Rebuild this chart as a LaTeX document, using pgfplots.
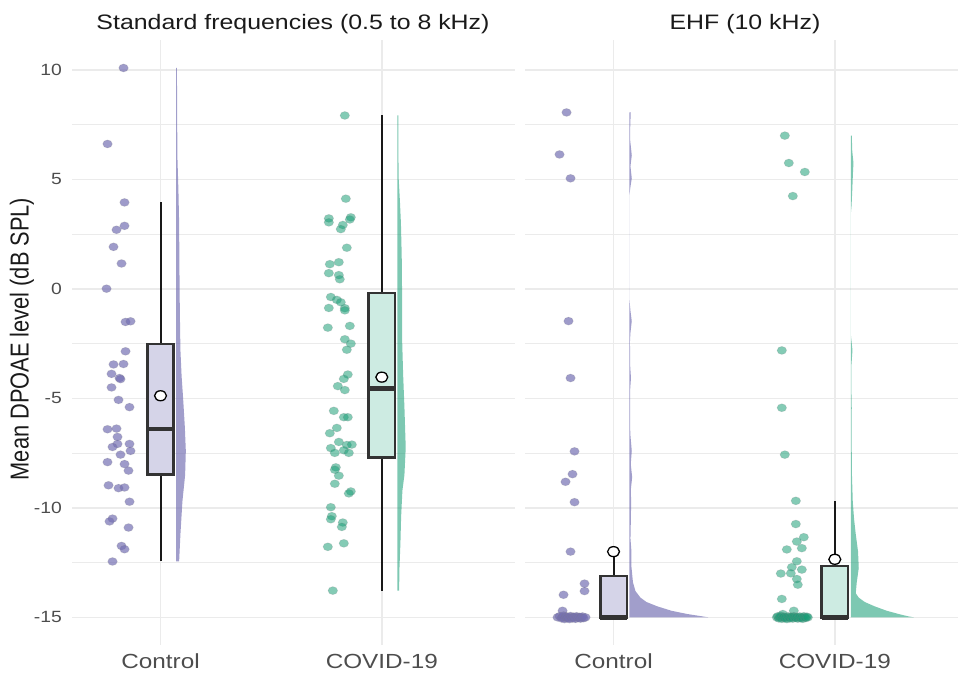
\documentclass[border=0pt]{standalone}
\usepackage{fontspec}
\setmainfont[FakeStretch=1.19]{Liberation Sans}
\newfontfamily\plainsans{Liberation Sans}
\usepackage{graphicx}
\usepackage{pgfplots}
\pgfplotsset{compat=1.18}
\usepackage{pgfplotstable}

\definecolor{ctrl}{HTML}{7570B3}
\definecolor{covid}{HTML}{1B9E77}
\definecolor{ctrlbox}{HTML}{D5D4E8}
\definecolor{covbox}{HTML}{CDEBE2}
\definecolor{gridc}{HTML}{EBEBEB}
\definecolor{tickc}{HTML}{4D4D4D}
\definecolor{titc}{HTML}{1A1A1A}
\definecolor{boxline}{HTML}{333333}

% jittered points: dx = horizontal offset in px from category centre, y = value
\pgfplotstableread{
dx y
-37 10.09
-53 6.62
-36 3.95
-36 2.88
-44 2.70
-47 1.92
-39 1.16
-54 0.01
-35 -1.51
-30 -1.48
-35 -2.85
-47 -3.45
-37 -3.43
-49 -3.88
-41 -4.07
-40 -4.12
-49 -4.50
-42 -5.07
-31 -5.40
-53 -6.41
-44 -6.38
-43 -6.76
-43 -7.08
-48 -7.22
-31 -7.08
-30 -7.40
-40 -7.57
-53 -7.91
-36 -8.00
-32 -8.30
-52 -8.97
-42 -9.10
-36 -9.07
-31 -9.72
-48 -10.49
-51 -10.62
-32 -10.90
-39 -11.74
-36 -11.89
-48 -12.45
}\ptsLC

\pgfplotstableread{
dx y
-37 7.92
-36 4.12
-53 3.22
-53 3.04
-31 3.27
-32 3.17
-39 2.92
-41 2.73
-35 1.88
-52 1.13
-43 1.22
-53 0.72
-43 0.63
-42 0.44
-51 -0.37
-45 -0.50
-41 -0.61
-53 -0.87
-37 -0.88
-37 -0.98
-54 -1.77
-32 -1.69
-37 -2.30
-31 -2.50
-35 -2.78
-34 -3.91
-38 -4.11
-44 -4.44
-37 -4.62
-48 -5.57
-38 -5.86
-34 -5.86
-45 -6.35
-52 -6.59
-43 -6.99
-35 -7.13
-30 -7.11
-51 -7.27
-47 -7.49
-38 -7.37
-33 -7.49
-46 -8.15
-47 -8.26
-43 -8.53
-47 -8.90
-31 -9.25
-33 -9.34
-51 -9.97
-50 -10.38
-51 -10.52
-39 -10.67
-40 -10.87
-54 -11.78
-38 -11.62
-49 -13.78
}\ptsLV

\pgfplotstableread{
dx y
-47 8.06
-54 6.14
-43 5.05
-45 -1.47
-43 -4.07
-39 -7.42
-41 -8.46
-48 -8.81
-39 -9.74
-43 -12.00
-29 -13.46
-29 -13.80
-50 -13.97
-51 -14.70
-56 -15.00
-54 -14.95
-52 -15.05
-51 -15.00
-50 -14.92
-49 -15.08
-48 -15.00
-47 -14.96
-46 -15.04
-45 -15.00
-44 -15.08
-43 -14.94
-42 -15.00
-41 -15.05
-40 -14.97
-39 -15.00
-38 -15.07
-37 -14.95
-36 -15.00
-35 -15.03
-34 -14.98
-33 -15.06
-32 -15.00
-31 -14.96
-30 -15.04
-28 -15.00
}\ptsRC

\pgfplotstableread{
dx y
-50 7.00
-46 5.75
-30 5.34
-42 4.24
-53 -2.81
-53 -5.43
-50 -7.57
-39 -9.68
-39 -10.74
-31 -11.34
-38 -11.54
-48 -11.90
-33 -11.84
-38 -12.44
-43 -12.71
-33 -12.82
-54 -13.00
-44 -12.99
-38 -13.25
-37 -13.51
-53 -14.16
-41 -14.70
-52 -14.85
-58 -15.00
-57 -14.95
-56 -15.05
-55 -15.00
-54 -14.93
-53 -15.07
-52 -15.00
-51 -14.97
-50 -15.04
-49 -15.00
-48 -15.08
-47 -14.95
-46 -15.00
-45 -15.05
-44 -14.97
-43 -15.00
-42 -15.06
-41 -14.95
-40 -15.00
-39 -15.03
-38 -14.98
-37 -15.06
-36 -15.00
-35 -14.96
-34 -15.04
-33 -15.00
-32 -15.07
-31 -14.95
-30 -15.00
-29 -15.03
-28 -14.97
-27 -15.00
}\ptsRV

% half violins: y, width in px to the right of the violin base
\pgfplotstableread{
y w
-12.45 0
-12.45 3.0
-11.2 4.3
-9.7 6.3
-8.5 9.0
-7.4 9.7
-6.3 8.7
-5.0 7.0
-4.0 5.5
-2.8 4.3
-1.0 3.7
1.0 3.3
3.0 3.0
4.5 2.3
6.0 1.3
8.0 1.0
10.09 0.8
10.09 0
}\vLC

\pgfplotstableread{
y w
-13.78 0
-13.78 1.7
-12.8 2.0
-11.6 3.0
-10.4 3.7
-9.2 5.0
-8.5 7.0
-7.25 8.3
-5.4 7.0
-3.9 5.7
-2.3 4.7
-0.5 4.7
1.5 4.3
3.0 3.5
4.0 2.5
5.0 1.3
6.0 1.0
7.92 1.0
7.92 0
}\vLV

\pgfplotstableread{
y w
-15.0 0
-15.0 79
-14.95 72
-14.85 58
-14.7 42
-14.5 28
-14.3 17
-14.1 11
-13.8 6
-13.4 3.5
-12.7 2.0
-12.0 2.0
-11.4 1.0
-10.75 1.3
-9.7 1.7
-9.2 1.3
-8.6 2.7
-8.0 1.3
-7.4 2.3
-6.6 0.8
-5.5 0.7
-4.6 0.7
-4.07 1.5
-3.5 0.7
-2.4 0.5
-2.0 1.0
-1.47 2.3
-1.0 1.0
-0.5 0
4.3 0
4.6 0.8
5.05 2.3
5.6 1.0
6.1 2.3
6.8 0.7
7.5 0.8
8.06 1.3
8.06 0
}\vRC

\pgfplotstableread{
y w
-15.0 0
-15.0 63
-14.95 57
-14.85 48
-14.7 36
-14.5 24
-14.3 14
-14.1 8
-13.9 5
-13.4 6
-12.75 8
-12.0 7.3
-11.2 5
-10.5 3.3
-9.7 2.0
-8.5 1.2
-7.5 1.0
-6.5 0.8
-5.43 1.0
-4.5 0.6
-3.6 0.5
-2.8 1.7
-2.05 0
3.4 0
3.8 0.8
4.5 1.5
5.3 2.2
5.75 2.7
6.3 1.5
7.0 1.0
7.0 0
}\vRV

\pgfplotsset{
  panel/.style={
    scale only axis, height=604.3bp,
    ymin=-16.25, ymax=11.35, xmin=0.6,
    axis line style={draw=none},
    major tick length=0pt, minor tick length=0pt,
    ytick={-15,-10,-5,0,5,10},
    minor ytick={-12.5,-7.5,-2.5,2.5,7.5},
    xtick={1,2}, xticklabels={Control,COVID-19},
    ymajorgrids, xmajorgrids, yminorgrids,
    major grid style={gridc, line width=1.5bp},
    minor grid style={gridc, line width=1.0bp},
    xticklabel style={font=\fontsize{20.5}{24}\selectfont, text=tickc, anchor=base, yshift=-24bp},
    yticklabel style={font=\fontsize{16.3}{19}\selectfont, text=tickc, anchor=east, inner sep=0pt, xshift=-10bp},
    /pgf/number format/assume math mode=true,
  },
  pts/.style 2 args={only marks, mark=*, mark size=4.0bp,
    mark options={xscale=1.19, fill=#1, fill opacity=#2, draw=black!50, draw opacity=0.2, line width=0.7bp}},
  vio/.style={draw=none, fill=#1},
  boxs/.style={draw=boxline, line width=2.6bp, fill=#1},
  whisk/.style={draw=black!90, line width=2.0bp},
  med/.style={draw=boxline, line width=4.6bp},
  meanm/.style={only marks, mark=*, mark size=5.0bp,
    mark options={xscale=1.19, fill=white, draw=black, line width=1.3bp}},
}

\begin{document}
\begin{tikzpicture}
\useasboundingbox (0,0) rectangle (958bp,676bp);

% ---------------- left panel ----------------
\begin{axis}[panel, at={(72bp,31.3bp)}, anchor=south west, width=442.6bp, xmax=2.6]
  \addplot[vio={ctrl}, fill opacity=0.68] table[x expr={1.0705+\thisrow{w}/221.3}, y=y] {\vLC};
  \addplot[vio={covid}, fill opacity=0.57] table[x expr={2.0705+\thisrow{w}/221.3}, y=y] {\vLV};
  \addplot[pts={ctrl}{0.7}] table[x expr={1+\thisrow{dx}/221.3}, y=y] {\ptsLC};
  \addplot[pts={covid}{0.54}] table[x expr={2+\thisrow{dx}/221.3}, y=y] {\ptsLV};
  \addplot[whisk] coordinates {(1,3.95) (1,-2.52)};
  \addplot[whisk] coordinates {(1,-8.49) (1,-12.45)};
  \addplot[whisk] coordinates {(2,7.92) (2,-0.18)};
  \addplot[whisk] coordinates {(2,-7.69) (2,-13.78)};
  \addplot[boxs=ctrlbox] coordinates {(0.94,-8.49) (1.06,-8.49) (1.06,-2.52) (0.94,-2.52)} -- cycle;
  \addplot[boxs=covbox] coordinates {(1.94,-7.69) (2.06,-7.69) (2.06,-0.18) (1.94,-0.18)} -- cycle;
  \addplot[med] coordinates {(0.94,-6.40) (1.06,-6.40)};
  \addplot[med] coordinates {(1.94,-4.55) (2.06,-4.55)};
  \addplot[meanm] coordinates {(1,-4.88) (2,-4.03)};
\end{axis}

% ---------------- right panel ----------------
\begin{axis}[panel, at={(525bp,31.3bp)}, anchor=south west, width=433.3bp, xmax=2.558, yticklabels={}]
  \addplot[vio={ctrl}, fill opacity=0.68] table[x expr={1.072+\thisrow{w}/221.3}, y=y] {\vRC};
  \addplot[vio={covid}, fill opacity=0.57] table[x expr={2.072+\thisrow{w}/221.3}, y=y] {\vRV};
  \addplot[pts={ctrl}{0.7}] table[x expr={1+\thisrow{dx}/221.3}, y=y] {\ptsRC};
  \addplot[pts={covid}{0.54}] table[x expr={2+\thisrow{dx}/221.3}, y=y] {\ptsRV};
  \addplot[whisk] coordinates {(1,-13.11) (1,-12.0)};
  \addplot[whisk] coordinates {(2,-12.65) (2,-9.68)};
  \addplot[boxs=ctrlbox] coordinates {(0.94,-15.0) (1.06,-15.0) (1.06,-13.11) (0.94,-13.11)} -- cycle;
  \addplot[boxs=covbox] coordinates {(1.94,-15.0) (2.06,-15.0) (2.06,-12.65) (1.94,-12.65)} -- cycle;
  \addplot[med] coordinates {(0.94,-15.0) (1.06,-15.0)};
  \addplot[med] coordinates {(1.94,-15.0) (2.06,-15.0)};
  \addplot[meanm] coordinates {(1,-12.0) (2,-12.35)};
\end{axis}

% titles
\node[font=\fontsize{21}{25}\selectfont, text=titc, anchor=base, inner sep=0pt] at (293bp,646bp) {Standard frequencies (0.5 to 8 kHz)};
\node[font=\fontsize{21}{25}\selectfont, text=titc, anchor=base, inner sep=0pt] at (745bp,646bp) {EHF (10 kHz)};
\node[font=\plainsans\fontsize{21.9}{26}\selectfont, text=titc, rotate=90, inner sep=0pt] at (22bp,337bp) {\scalebox{1}[1.19]{Mean DPOAE level (dB SPL)}};
\end{tikzpicture}
\end{document}
